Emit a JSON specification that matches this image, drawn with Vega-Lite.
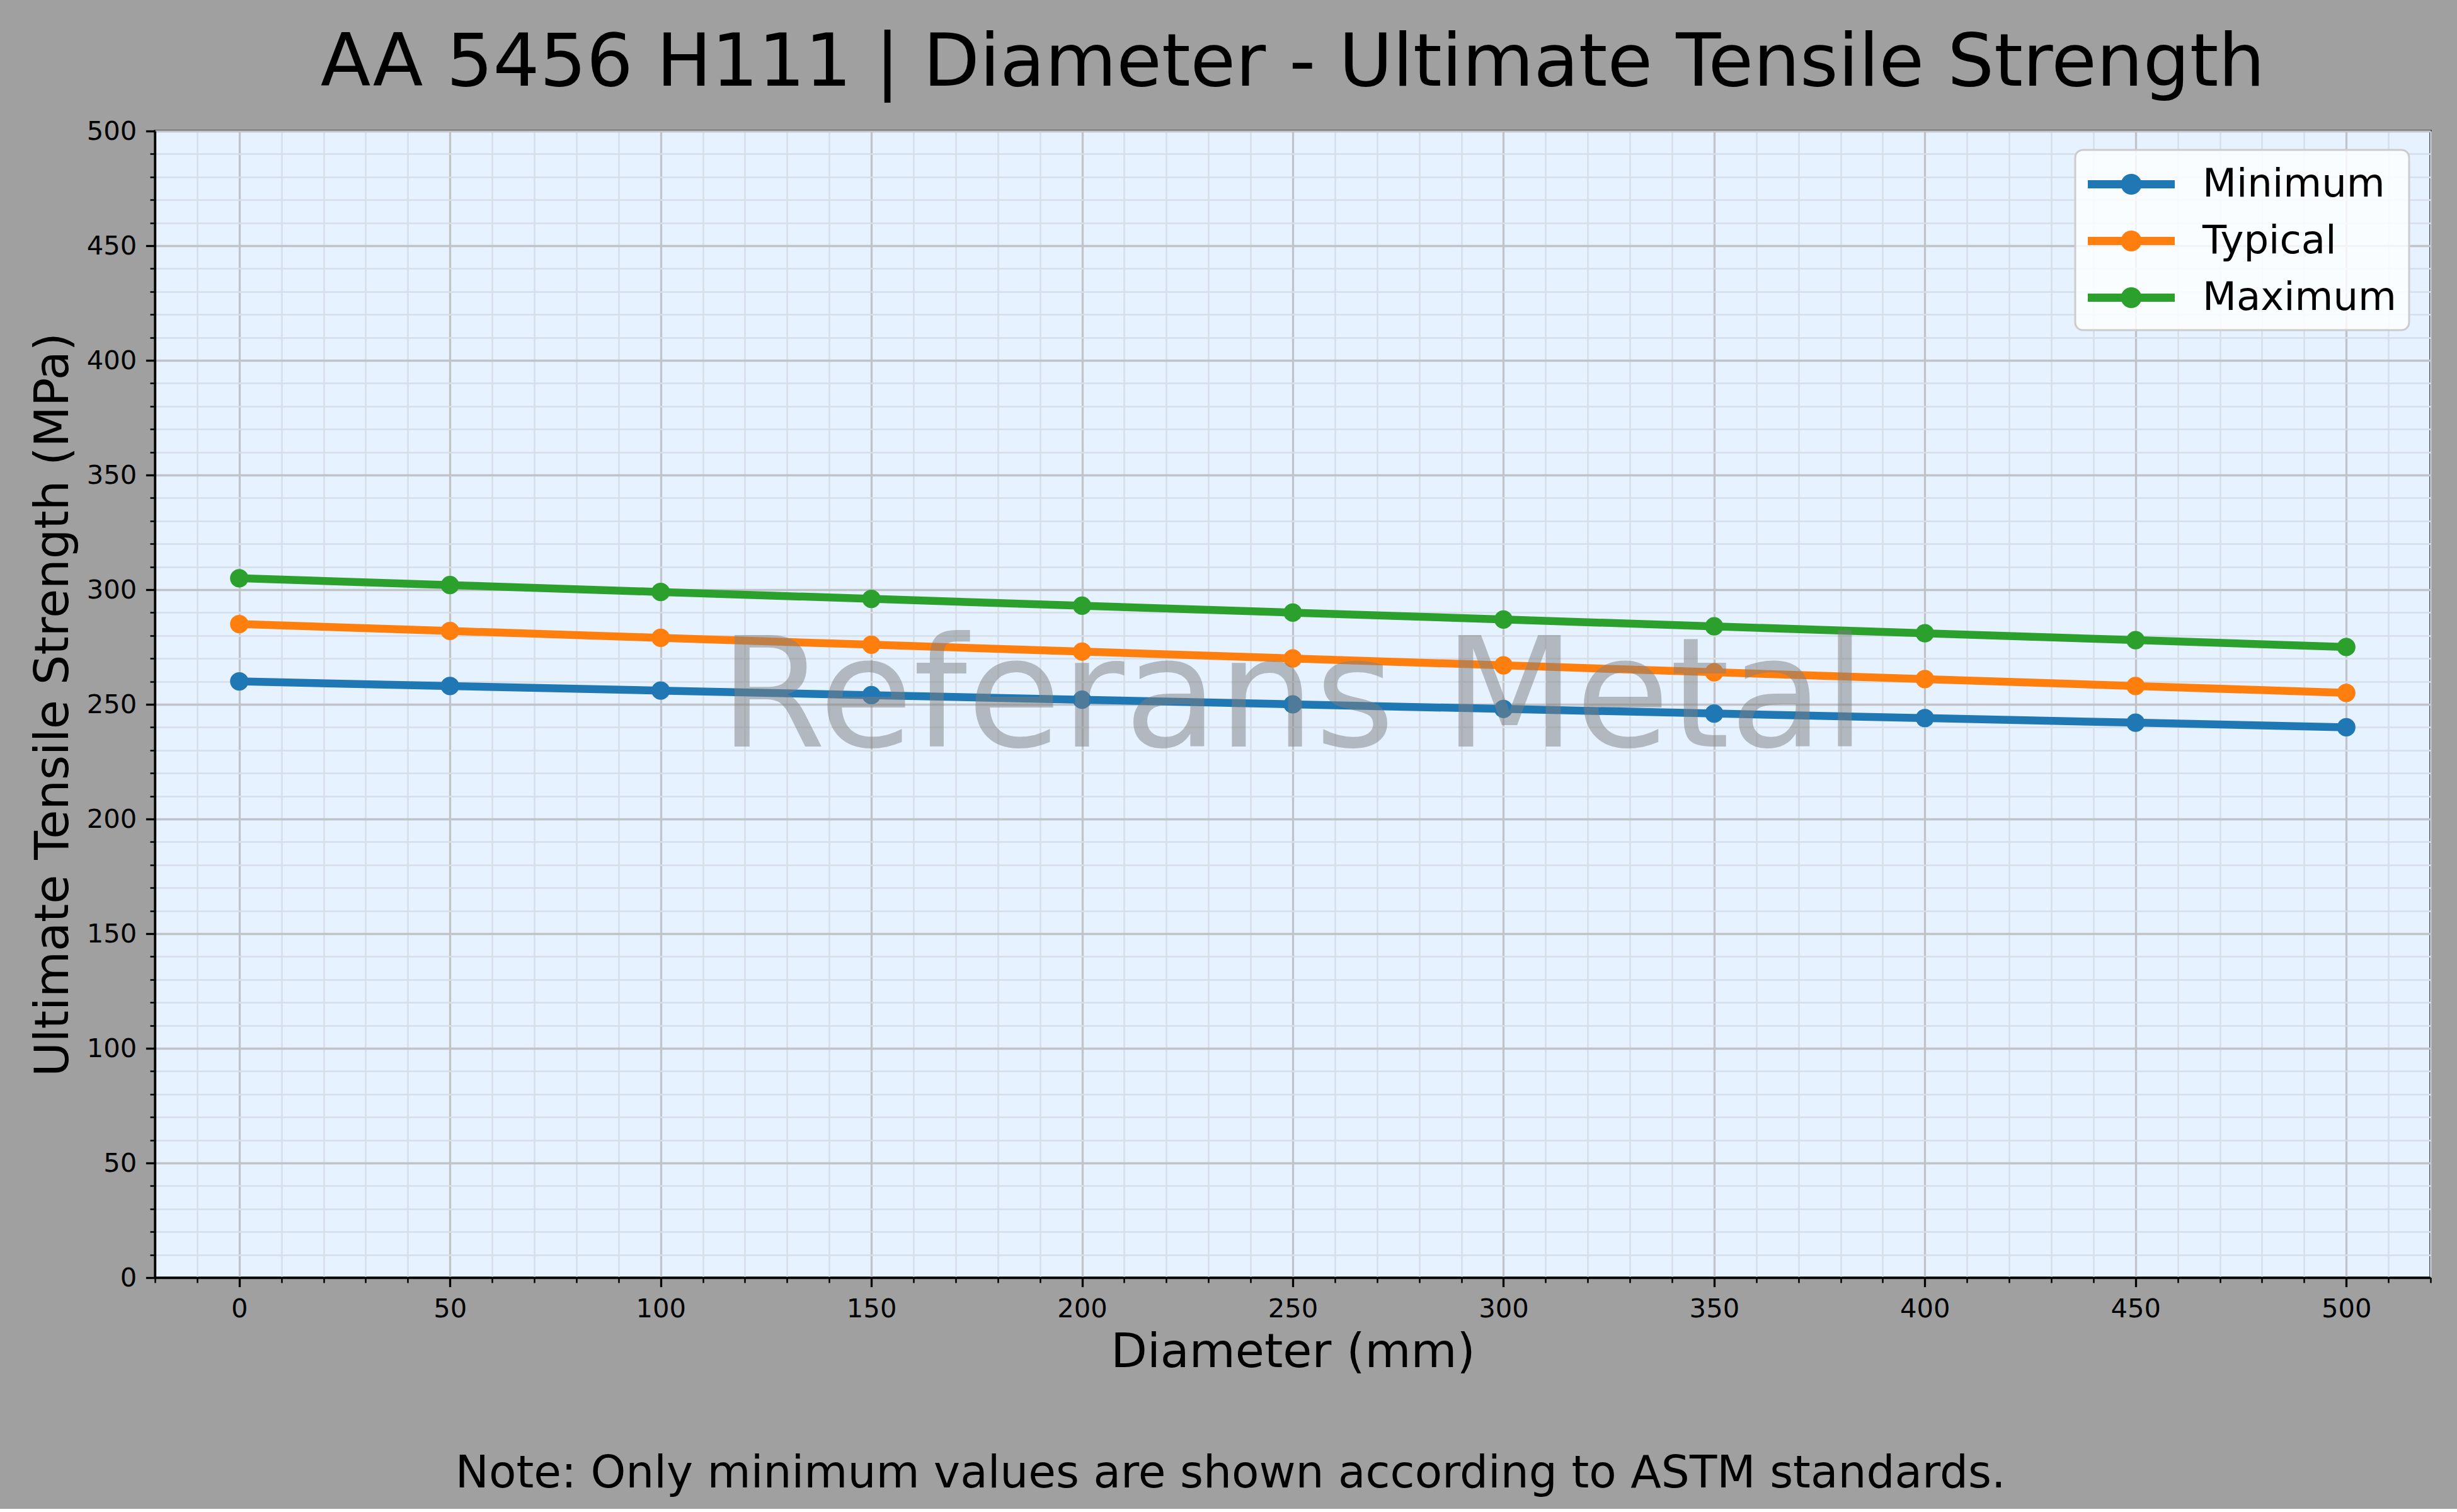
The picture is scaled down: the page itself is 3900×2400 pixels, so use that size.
{
  "$schema": "https://vega.github.io/schema/vega-lite/v6.json",
  "background": "#a0a0a0",
  "padding": {"left": 45, "top": 40, "right": 45, "bottom": 20},
  "config": {
    "font": "DejaVu Sans",
    "view": {"fill": "#e6f2ff", "stroke": "black", "strokeWidth": 3.3},
    "axis": {
      "labelFont": "DejaVu Sans",
      "labelFontSize": 41.7,
      "labelColor": "black",
      "titleFont": "DejaVu Sans",
      "titleFontSize": 75,
      "titleFontWeight": "normal",
      "titleColor": "black",
      "domainColor": "black",
      "domainWidth": 3.3,
      "tickColor": "black",
      "labelPadding": 14.6,
      "labelOverlap": false,
      "labelFlush": false,
      "grid": true
    }
  },
  "title": {
    "text": "Note: Only minimum values are shown according to ASTM standards.",
    "orient": "bottom",
    "anchor": "middle",
    "frame": "bounds",
    "font": "DejaVu Sans",
    "fontSize": 71,
    "fontWeight": "normal",
    "color": "black",
    "offset": 118
  },
  "vconcat": [
    {
      "width": 3612,
      "height": 1820,
      "title": {
        "text": "AA 5456 H111 | Diameter - Ultimate Tensile Strength",
        "anchor": "middle",
        "frame": "group",
        "font": "DejaVu Sans",
        "fontSize": 116.5,
        "fontWeight": "normal",
        "color": "black",
        "baseline": "alphabetic",
        "offset": -64
      },
      "data": {
        "values": [
          {"diameter": 0, "series": "Minimum", "uts": 260},
          {"diameter": 50, "series": "Minimum", "uts": 258},
          {"diameter": 100, "series": "Minimum", "uts": 256},
          {"diameter": 150, "series": "Minimum", "uts": 254},
          {"diameter": 200, "series": "Minimum", "uts": 252},
          {"diameter": 250, "series": "Minimum", "uts": 250},
          {"diameter": 300, "series": "Minimum", "uts": 248},
          {"diameter": 350, "series": "Minimum", "uts": 246},
          {"diameter": 400, "series": "Minimum", "uts": 244},
          {"diameter": 450, "series": "Minimum", "uts": 242},
          {"diameter": 500, "series": "Minimum", "uts": 240},
          {"diameter": 0, "series": "Typical", "uts": 285},
          {"diameter": 50, "series": "Typical", "uts": 282},
          {"diameter": 100, "series": "Typical", "uts": 279},
          {"diameter": 150, "series": "Typical", "uts": 276},
          {"diameter": 200, "series": "Typical", "uts": 273},
          {"diameter": 250, "series": "Typical", "uts": 270},
          {"diameter": 300, "series": "Typical", "uts": 267},
          {"diameter": 350, "series": "Typical", "uts": 264},
          {"diameter": 400, "series": "Typical", "uts": 261},
          {"diameter": 450, "series": "Typical", "uts": 258},
          {"diameter": 500, "series": "Typical", "uts": 255},
          {"diameter": 0, "series": "Maximum", "uts": 305},
          {"diameter": 50, "series": "Maximum", "uts": 302},
          {"diameter": 100, "series": "Maximum", "uts": 299},
          {"diameter": 150, "series": "Maximum", "uts": 296},
          {"diameter": 200, "series": "Maximum", "uts": 293},
          {"diameter": 250, "series": "Maximum", "uts": 290},
          {"diameter": 300, "series": "Maximum", "uts": 287},
          {"diameter": 350, "series": "Maximum", "uts": 284},
          {"diameter": 400, "series": "Maximum", "uts": 281},
          {"diameter": 450, "series": "Maximum", "uts": 278},
          {"diameter": 500, "series": "Maximum", "uts": 275}
        ]
      },
      "encoding": {
        "x": {
          "field": "diameter",
          "type": "quantitative",
          "scale": {"domain": [-20, 520], "nice": false, "zero": false},
          "axis": {
            "title": "Diameter (mm)",
            "titlePadding": 12,
            "format": "d",
            "values": [-20, -10, 0, 10, 20, 30, 40, 50, 60, 70, 80, 90, 100, 110, 120, 130, 140, 150, 160, 170, 180, 190, 200, 210, 220, 230, 240, 250, 260, 270, 280, 290, 300, 310, 320, 330, 340, 350, 360, 370, 380, 390, 400, 410, 420, 430, 440, 450, 460, 470, 480, 490, 500, 510, 520],
            "labelExpr": "datum.value % 50 === 0 ? datum.label : ''",
            "tickSize": {"condition": {"test": "datum.value % 50 === 0", "value": 14.6}, "value": 8},
            "tickWidth": {"condition": {"test": "datum.value % 50 === 0", "value": 3.3}, "value": 2.5},
            "gridColor": {"condition": {"test": "datum.value % 50 === 0", "value": "#c0c4c8"}, "value": "#d6dee7"},
            "gridWidth": {"condition": {"test": "datum.value % 50 === 0", "value": 3.3}, "value": 2.5}
          }
        },
        "y": {
          "field": "uts",
          "type": "quantitative",
          "scale": {"domain": [0, 500], "nice": false},
          "axis": {
            "title": "Ultimate Tensile Strength (MPa)",
            "titlePadding": 14,
            "format": "d",
            "values": [0, 10, 20, 30, 40, 50, 60, 70, 80, 90, 100, 110, 120, 130, 140, 150, 160, 170, 180, 190, 200, 210, 220, 230, 240, 250, 260, 270, 280, 290, 300, 310, 320, 330, 340, 350, 360, 370, 380, 390, 400, 410, 420, 430, 440, 450, 460, 470, 480, 490, 500],
            "labelExpr": "datum.value % 50 === 0 ? datum.label : ''",
            "tickSize": {"condition": {"test": "datum.value % 50 === 0", "value": 14.6}, "value": 8},
            "tickWidth": {"condition": {"test": "datum.value % 50 === 0", "value": 3.3}, "value": 2.5},
            "gridColor": {"condition": {"test": "datum.value % 50 === 0", "value": "#c0c4c8"}, "value": "#d6dee7"},
            "gridWidth": {"condition": {"test": "datum.value % 50 === 0", "value": 3.3}, "value": 2.5}
          }
        },
        "color": {
          "field": "series",
          "type": "nominal",
          "scale": {"domain": ["Minimum", "Typical", "Maximum"], "range": ["#1f77b4", "#ff7f0e", "#2ca02c"]},
          "legend": {
            "title": null,
            "orient": "none",
            "legendX": 3048,
            "legendY": 30,
            "symbolType": "M-1,-0.188L3,-0.188L3,0.188L-1,0.188Z M1.478,0A0.478,0.478 0 1,1 0.522,0A0.478,0.478 0 1,1 1.478,0Z",
            "symbolSize": 4761,
            "symbolStrokeWidth": 0,
            "labelFont": "DejaVu Sans",
            "labelFontSize": 62.5,
            "labelColor": "black",
            "labelLimit": 0,
            "labelOffset": 113,
            "rowPadding": 24,
            "padding": 20,
            "fillColor": "rgba(255,255,255,0.8)",
            "strokeColor": "#cccccc",
            "cornerRadius": 12,
            "encode": {
              "legend": {"update": {"strokeWidth": {"value": 3}}},
              "symbols": {
                "update": {
                  "fill": {"scale": "color", "field": "value"},
                  "stroke": {"value": "transparent"},
                  "opacity": {"value": 1}
                }
              }
            }
          }
        }
      },
      "layer": [
        {"mark": {"type": "line", "strokeWidth": 12.5}},
        {"mark": {"type": "point", "filled": true, "shape": "circle", "size": 855, "opacity": 1}},
        {
          "transform": [{"filter": "datum.diameter === 250 && datum.series === 'Minimum'"}],
          "mark": {
            "type": "text",
            "text": "Referans Metal",
            "font": "DejaVu Sans",
            "fontSize": 243,
            "align": "center",
            "baseline": "alphabetic",
            "dy": 67,
            "opacity": 0.5
          },
          "encoding": {
            "x": {"datum": 250},
            "y": {"datum": 250},
            "color": {"value": "gray"}
          }
        }
      ]
    }
  ]
}
